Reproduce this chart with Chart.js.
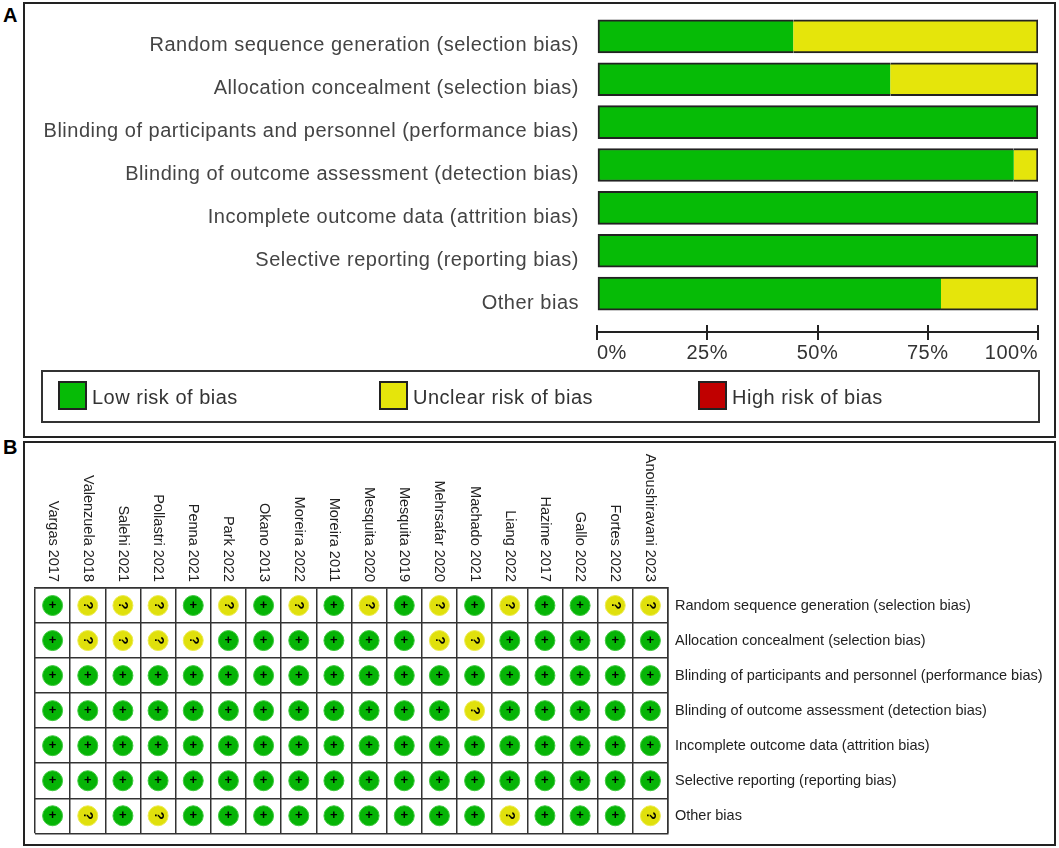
<!DOCTYPE html>
<html>
<head>
<meta charset="utf-8">
<title>Risk of bias</title>
<script src="https://cdn.jsdelivr.net/npm/chart.js@4"></script>
<style>
  body { margin: 0; background: #fff; font-family: "Liberation Sans", Arial, sans-serif; overflow: hidden; }
  .tag { position: absolute; font-weight: bold; font-size: 20px; color: #000; }
  .panel { position: absolute; border: 2px solid #222; box-sizing: border-box; }
  canvas { position: absolute; }
  #legend { position: absolute; left: 41px; top: 370px; width: 999px; height: 53px; border: 2px solid #333; box-sizing: border-box; }
  #legend .item { position: absolute; top: 0; height: 49px; font-size: 20px; letter-spacing: 0.5px; color: #333; line-height: 50px; white-space: nowrap; }
  #legend .swatch { position: absolute; left: 0; top: 9px; width: 29px; height: 29px; border: 2px solid #222; box-sizing: border-box; }
  #legend .item span { margin-left: 34px; }
</style>
</head>
<body>
<div class="tag" style="left:3px;top:4px">A</div>
<div class="tag" style="left:3px;top:436px">B</div>
<div class="panel" style="left:23px;top:2px;width:1033px;height:436px"></div>
<div class="panel" style="left:23px;top:441px;width:1033px;height:405px"></div>
<canvas id="summaryChart" width="1027" height="443" style="left:26px;top:-7px"></canvas>
<div id="legend"></div>
<canvas id="matrixChart" width="1029" height="405" style="left:24px;top:444px"></canvas>

<script>
const domains = [
    'Random sequence generation (selection bias)',
    'Allocation concealment (selection bias)',
    'Blinding of participants and personnel (performance bias)',
    'Blinding of outcome assessment (detection bias)',
    'Incomplete outcome data (attrition bias)',
    'Selective reporting (reporting bias)',
    'Other bias'
];

// Panel A, percent of studies
const lowRisk = [44.5, 66.5, 100, 94.5, 100, 100, 78];
const unclearRisk = [55.5, 33.5, 0, 5.5, 0, 0, 22];
const highRisk = [0, 0, 0, 0, 0, 0, 0];
const percentTicks = [0, 25, 50, 75, 100];

// Panel B, one judgement per study
const studies = ['Vargas 2017', 'Valenzuela 2018', 'Salehi 2021', 'Pollastri 2021', 'Penna 2021', 'Park 2022',
    'Okano 2013', 'Moreira 2022', 'Moreira 2011', 'Mesquita 2020', 'Mesquita 2019', 'Mehrsafar 2020',
    'Machado 2021', 'Liang 2022', 'Hazime 2017', 'Gallo 2022', 'Fortes 2022', 'Anoushiravani 2023'];
const randomSequence = ['+', '?', '?', '?', '+', '?', '+', '?', '+', '?', '+', '?', '+', '?', '+', '+', '?', '?'];
const allocation = ['+', '?', '?', '?', '?', '+', '+', '+', '+', '+', '+', '?', '?', '+', '+', '+', '+', '+'];
const blindingPersonnel = ['+', '+', '+', '+', '+', '+', '+', '+', '+', '+', '+', '+', '+', '+', '+', '+', '+', '+'];
const blindingOutcome = ['+', '+', '+', '+', '+', '+', '+', '+', '+', '+', '+', '+', '?', '+', '+', '+', '+', '+'];
const incompleteData = ['+', '+', '+', '+', '+', '+', '+', '+', '+', '+', '+', '+', '+', '+', '+', '+', '+', '+'];
const selectiveReporting = ['+', '+', '+', '+', '+', '+', '+', '+', '+', '+', '+', '+', '+', '+', '+', '+', '+', '+'];
const otherBias = ['+', '?', '+', '?', '+', '+', '+', '+', '+', '+', '+', '+', '+', '?', '+', '+', '+', '?'];
const judgements = [randomSequence, allocation, blindingPersonnel, blindingOutcome, incompleteData, selectiveReporting, otherBias];

const GREEN = '#06bb06';
const YELLOW = '#e5e50b';
const RED = '#c00000';
const OUTLINE = '#222';
const FONT = '"Liberation Sans", Arial, sans-serif';

// Outline goes round the whole stacked bar, not round each piece
function edgeLeft(ctx) {
    const full = lowRisk[ctx.dataIndex] >= 100;
    return { top: 2, bottom: 2, left: 2, right: full ? 2 : 0 };
}
function edgeRight() {
    return { top: 2, bottom: 2, left: 0, right: 2 };
}

// the labels of panel A are slightly tracked
const trackingPlugin = {
    id: 'tracking',
    beforeDraw(chart) {
        chart.ctx.letterSpacing = '0.5px';
    }
};

const summaryChart = new Chart(document.getElementById('summaryChart'), {
    type: 'bar',
    data: {
        labels: domains,
        datasets: [
            { label: 'Low risk of bias', data: lowRisk, backgroundColor: GREEN, borderColor: OUTLINE, borderWidth: edgeLeft, borderSkipped: false, barThickness: 33 },
            { label: 'Unclear risk of bias', data: unclearRisk, backgroundColor: YELLOW, borderColor: OUTLINE, borderWidth: edgeRight, borderSkipped: false, barThickness: 33 },
            { label: 'High risk of bias', data: highRisk, backgroundColor: RED, borderColor: OUTLINE, borderWidth: 0, barThickness: 33 }
        ]
    },
    options: {
        indexAxis: 'y',
        responsive: false,
        animation: false,
        layout: { padding: { top: 10, right: 15, bottom: 121, left: 0 } },
        plugins: { legend: { display: false }, tooltip: { enabled: false } },
        scales: {
            y: {
                stacked: true,
                afterFit: s => { s.width = 571; },
                grid: { display: false },
                border: { display: false },
                ticks: { color: '#444', padding: 10, labelOffset: 9.5, font: { family: FONT, size: 20 } }
            },
            x: {
                stacked: true,
                min: 0,
                max: 100,
                position: { y: 6.9 },
                grid: { drawOnChartArea: false, color: '#222', lineWidth: 2, tickLength: 7 },
                border: { display: true, color: '#222', width: 2 },
                afterBuildTicks: s => { s.ticks = percentTicks.map(v => ({ value: v })); },
                ticks: { align: 'inner', color: '#333', padding: 2, maxRotation: 0, font: { family: FONT, size: 20 }, callback: v => v + '%' }
            },
            // upper half of the tick marks
            xUpper: {
                axis: 'x',
                type: 'linear',
                min: 0,
                max: 100,
                position: { y: 6.9 },
                grid: { drawOnChartArea: false, color: '#222', lineWidth: 2, tickLength: -7 },
                border: { display: false },
                afterBuildTicks: s => { s.ticks = percentTicks.map(v => ({ value: v })); },
                ticks: { display: false }
            }
        }
    },
    plugins: [trackingPlugin]
});

// legend of panel A
const legendBox = document.getElementById('legend');
[15, 336, 655].forEach((left, i) => {
    const ds = summaryChart.data.datasets[i];
    const item = document.createElement('div');
    item.className = 'item';
    item.style.left = left + 'px';
    item.innerHTML = '<div class="swatch" style="background:' + ds.backgroundColor + '"></div><span>' + ds.label + '</span>';
    legendBox.appendChild(item);
});

function pointsFor(mark) {
    const pts = [];
    judgements.forEach((row, r) => {
        row.forEach((j, s) => {
            if (j === mark) pts.push({ x: studies[s], y: domains[r] });
        });
    });
    return pts;
}

// sign on top of each circle
const signPlugin = {
    id: 'signs',
    afterDatasetsDraw(chart) {
        const ctx = chart.ctx;
        ctx.save();
        ctx.fillStyle = '#000';
        ctx.textAlign = 'center';
        ctx.textBaseline = 'middle';
        ctx.font = 'bold 13px ' + FONT;
        chart.data.datasets.forEach((ds, i) => {
            chart.getDatasetMeta(i).data.forEach(el => {
                ctx.save();
                ctx.translate(el.x, el.y);
                if (ds.sign === '?') ctx.rotate(Math.PI / 2);
                ctx.fillText(ds.sign, 0, 0);
                ctx.restore();
            });
        });
        ctx.restore();
    }
};

// study names read downwards and end just above the grid
const studyLabelPlugin = {
    id: 'studyLabels',
    afterDraw(chart) {
        const ctx = chart.ctx;
        const sx = chart.scales.x;
        ctx.save();
        ctx.fillStyle = '#222';
        ctx.textAlign = 'right';
        ctx.textBaseline = 'middle';
        ctx.font = '14.5px ' + FONT;
        studies.forEach((name, i) => {
            ctx.save();
            ctx.translate(sx.getPixelForTick(i), chart.chartArea.top - 6);
            ctx.rotate(Math.PI / 2);
            ctx.fillText(name, 0, 0);
            ctx.restore();
        });
        ctx.restore();
    }
};

new Chart(document.getElementById('matrixChart'), {
    type: 'scatter',
    data: {
        datasets: [
            { label: 'Low risk of bias', sign: '+', data: pointsFor('+'), backgroundColor: '#06b406', borderColor: '#3fca3f', borderWidth: 1, pointRadius: 10 },
            { label: 'Unclear risk of bias', sign: '?', data: pointsFor('?'), backgroundColor: '#e0e00c', borderColor: '#ecec50', borderWidth: 1, pointRadius: 10 }
        ]
    },
    options: {
        responsive: false,
        animation: false,
        layout: { padding: { top: 144, right: 0, bottom: 3, left: 7 } },
        plugins: { legend: { display: false }, tooltip: { enabled: false } },
        scales: {
            x: {
                type: 'category',
                labels: studies,
                position: 'top',
                offset: true,
                grid: { offset: true, color: '#333', lineWidth: 1.5, drawTicks: false },
                border: { display: true, color: '#333', width: 1.5 },
                ticks: { display: false }
            },
            y: {
                type: 'category',
                labels: domains,
                position: 'right',
                offset: true,
                afterFit: s => { s.width = 385; },
                grid: { offset: true, color: '#333', lineWidth: 1.5, drawTicks: false },
                border: { display: true, color: '#333', width: 1.5 },
                ticks: { color: '#222', padding: 7, font: { family: FONT, size: 14.5 } }
            }
        }
    },
    plugins: [signPlugin, studyLabelPlugin]
});
</script>
</body>
</html>
